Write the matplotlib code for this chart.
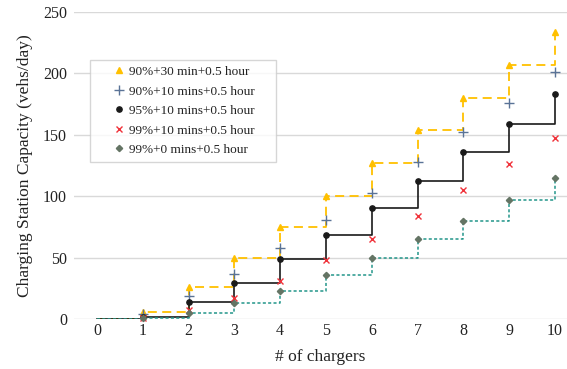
import matplotlib
matplotlib.use("Agg")
import matplotlib.pyplot as plt
from matplotlib.lines import Line2D

plt.rcParams["font.family"] = ["Liberation Serif", "DejaVu Serif"]

chargers = [0, 1, 2, 3, 4, 5, 6, 7, 8, 9, 10]
cap_90_30 = [0, 6, 26, 50, 75, 100, 127, 154, 180, 207, 234]
cap_90_10 = [0, 4, 19, 37, 58, 81, 103, 128, 152, 176, 201]
cap_95_10 = [0, 2, 14, 29, 49, 68, 90, 112, 136, 159, 183]
cap_99_10 = [0, 1, 7, 17, 31, 48, 65, 84, 105, 126, 147]
cap_99_0 = [0, 1, 5, 13, 23, 36, 50, 65, 80, 97, 115]

labels = ["90%+30 min+0.5 hour", "90%+10 mins+0.5 hour", "95%+10 mins+0.5 hour",
          "99%+10 mins+0.5 hour", "99%+0 mins+0.5 hour"]

YEL, BLU, BLK, RED, GRY, TEAL = "#FFC000", "#5A7397", "#1a1a1a", "#F0323A", "#647464", "#23968A"

fig = plt.figure(figsize=(5.67, 3.69), dpi=100)
ax = fig.add_axes([74 / 567, 50 / 369, 493 / 567, 307 / 369])

# step lines
ax.step(chargers, cap_90_30, where="post", color=YEL, lw=1.3, ls=(0, (5, 3)), zorder=3)
ax.step(chargers, cap_95_10, where="post", color=BLK, lw=1.2, zorder=3)
ax.step(chargers, cap_99_0, where="post", color=TEAL, lw=1.1, ls=(0, (2, 1.5)), zorder=3)

# markers (skip x=0)
styles = [
    dict(marker="^", ms=5, color=YEL),
    dict(marker="+", ms=7, mew=1.0, color=BLU),
    dict(marker="o", ms=3.8, color=BLK),
    dict(marker="x", ms=4.5, mew=1.0, color=RED),
    dict(marker="D", ms=3.2, color=GRY),
]
series = [cap_90_30, cap_90_10, cap_95_10, cap_99_10, cap_99_0]
xs = chargers[1:]
for vals, st in zip(series, styles):
    ax.plot(xs, vals[1:], ls="none", zorder=4, clip_on=False, **st)

ax.set_xlim(-0.5, 10.26)
ax.set_ylim(0, 250)
ax.set_xticks(chargers)
ax.set_yticks([0, 50, 100, 150, 200, 250])
ax.yaxis.grid(True, color="#d9d9d9", lw=1.0, zorder=0)
ax.set_axisbelow(True)
for s in ax.spines.values():
    s.set_visible(False)
ax.tick_params(length=0, labelsize=11.5, colors="#222222")
ax.tick_params(axis="x", pad=3)
ax.tick_params(axis="y", pad=5)
ax.set_xlabel("# of chargers", fontsize=12.5, color="#222222", labelpad=7)
ax.set_ylabel("Charging Station Capacity (vehs/day)", fontsize=12.5, color="#222222", labelpad=7)

handles = [Line2D([], [], ls="none", **st) for st in styles]
leg = ax.legend(handles, labels, loc="upper left", bbox_to_anchor=(0.032, 0.844, 0.377, 0.0),
                mode="expand", borderaxespad=0, fontsize=9.5, handlelength=3.5,
                handletextpad=-1.0, labelspacing=0.55, borderpad=0.45,
                frameon=True, fancybox=False)
leg.get_frame().set_edgecolor("#cccccc")
leg.get_frame().set_linewidth(1.0)
for t in leg.get_texts():
    t.set_color("#222222")

fig.savefig("out.png", dpi=100)
